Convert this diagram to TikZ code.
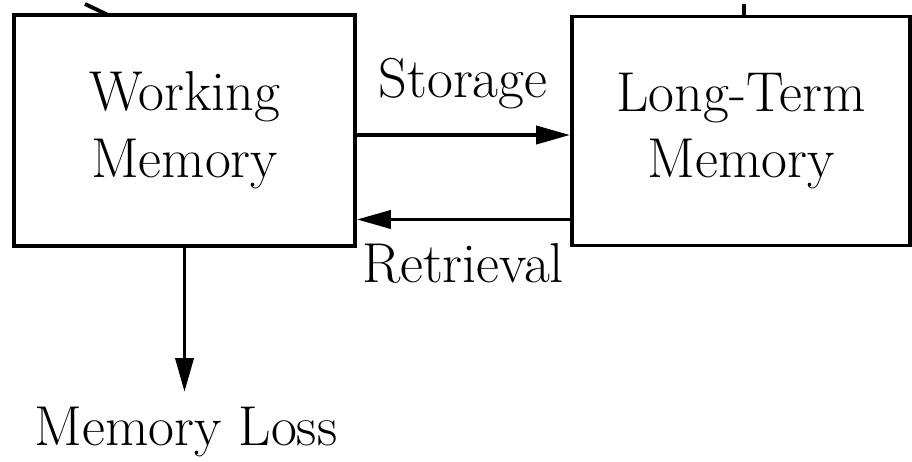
\documentclass[tikz,border=0pt]{standalone}
\usepackage{tikz}
\usetikzlibrary{arrows.meta}
\tikzset{mbox/.style={draw, line width=2.2pt, align=center, inner sep=0pt,
                      font=\fontsize{32}{38}\selectfont},
         lbl/.style={font=\fontsize{32}{38}\selectfont, inner sep=0pt},
         arr/.style={line width=2.2pt, -{Triangle[length=0.68cm,width=0.36cm]}}}

\begin{document}
\begin{tikzpicture}[x=0.02cm,y=-0.02cm]
                \useasboundingbox (0,0) rectangle (912,462);
                % boxes
                \node[mbox, minimum width=6.82cm, minimum height=4.62cm] (wm) at (184.5,130.5) {Working\\Memory};
                \node[mbox, minimum width=6.76cm, minimum height=4.58cm] (ltm) at (741,131) {Long-Term\\Memory};
                % ends of lines coming in from above
                \coordinate (inwm) at (85,4);
                \coordinate (inltm) at (744,4);
                \coordinate (wmtop) at (108,15);
                \coordinate (ltmtop) at (744,15);
                \draw[line width=2.2pt] (inwm) -- (wmtop);
                \draw[line width=2.2pt] (inltm) -- (ltmtop);
                % labels
                \node[lbl] (st) at (463,84) {Storage};
                \node[lbl] (re) at (463,263) {Retrieval};
                \node[lbl] (ml) at (186,432) {Memory Loss};
                \draw[arr] ([yshift=-0.09cm]wm.east) -- ([yshift=-0.09cm]wm.east -| ltm.west);
                \draw[arr] ([yshift=-1.77cm]ltm.west) -- ([yshift=-1.77cm]ltm.west -| wm.east);
                \draw[arr] (wm.south) -- (184.5,392);
            \end{tikzpicture}
\end{document}
